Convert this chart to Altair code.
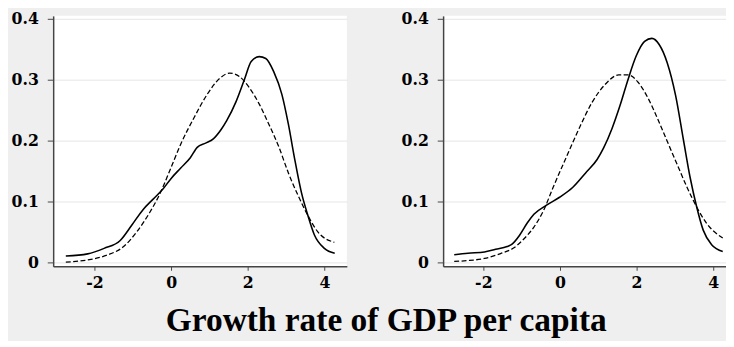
import altair as alt
import pandas as pd

# Left panel: kernel density (solid) and normal density (dashed)
left_kernel_x = [-2.75, -2.18, -1.75, -1.33, -1.03, -0.73, -0.47, -0.22, 0.0, 0.25, 0.5, 0.68, 0.9, 1.1,
                 1.3, 1.45, 1.7, 1.91, 2.09, 2.3, 2.47, 2.68, 2.89, 3.06, 3.23, 3.4, 3.57, 3.74, 4.0, 4.27]
left_kernel_y = [0.0106, 0.014, 0.023, 0.036, 0.061, 0.087, 0.104, 0.12, 0.138, 0.155, 0.172, 0.189, 0.196, 0.203,
                 0.218, 0.233, 0.265, 0.30, 0.33, 0.338, 0.335, 0.313, 0.276, 0.227, 0.168, 0.115, 0.077, 0.045, 0.023, 0.015]
left_normal_x = [-2.75, -2.18, -1.67, -1.24, -0.9, -0.56, -0.3, -0.04, 0.255, 0.6, 0.94, 1.28, 1.53, 1.79,
                 2.04, 2.3, 2.55, 2.81, 3.06, 3.32, 3.57, 3.83, 4.26]
left_normal_y = [0.0005, 0.004, 0.012, 0.026, 0.05, 0.082, 0.112, 0.15, 0.195, 0.238, 0.276, 0.303, 0.311, 0.305,
                 0.287, 0.26, 0.227, 0.19, 0.147, 0.109, 0.077, 0.05, 0.033]

# Right panel
right_kernel_x = [-2.76, -2.4, -1.97, -1.68, -1.38, -1.25, -1.05, -0.85, -0.68, -0.35, -0.01, 0.33, 0.67, 0.97,
                  1.14, 1.36, 1.57, 1.78, 1.99, 2.21, 2.4, 2.59, 2.8, 3.02, 3.23, 3.4, 3.57, 3.74, 3.96, 4.25]
right_kernel_y = [0.0124, 0.015, 0.017, 0.0215, 0.026, 0.030, 0.045, 0.065, 0.079, 0.094, 0.107, 0.123, 0.147, 0.169,
                  0.188, 0.22, 0.258, 0.301, 0.339, 0.363, 0.368, 0.358, 0.328, 0.274, 0.199, 0.139, 0.091, 0.053, 0.029, 0.018]
right_normal_x = [-2.76, -2.4, -1.97, -1.55, -1.2, -0.95, -0.68, -0.43, -0.18, 0.16, 0.5, 0.84, 1.19, 1.53,
                  1.78, 2.04, 2.29, 2.55, 2.8, 3.06, 3.32, 3.57, 3.83, 4.25]
right_normal_y = [0.0016, 0.003, 0.0065, 0.0145, 0.024, 0.038, 0.058, 0.085, 0.123, 0.172, 0.22, 0.263, 0.293, 0.308,
                  0.308, 0.296, 0.271, 0.236, 0.199, 0.161, 0.123, 0.091, 0.064, 0.04]

x_ticks = [-2, 0, 2, 4]
y_ticks = [0, 0.1, 0.2, 0.3, 0.4]
title_text = "Growth rate of GDP per capita"

FONT = "Liberation Serif"


def panel(kx, ky, nx, ny, width, xdomain):
    kdf = pd.DataFrame({"x": kx, "y": ky})
    ndf = pd.DataFrame({"x": nx, "y": ny})
    xs = alt.Scale(domain=xdomain, nice=False, zero=False)
    ys = alt.Scale(domain=[-0.0065, 0.405], nice=False, zero=False)
    xax = alt.Axis(values=x_ticks, grid=False, labelExpr="'' + datum.value",
                   tickSize=4, labelPadding=5, title=None)
    yax = alt.Axis(values=y_ticks, grid=True, format=".1~f",
                   tickSize=6, labelPadding=9, title=None)
    solid = alt.Chart(kdf).mark_line(color="black", strokeWidth=1.6, interpolate="monotone", clip=True).encode(
        x=alt.X("x:Q", scale=xs, axis=xax),
        y=alt.Y("y:Q", scale=ys, axis=yax),
    )
    dashed = alt.Chart(ndf).mark_line(color="black", strokeWidth=1.3, strokeDash=[5, 2.5],
                                      interpolate="monotone", clip=True).encode(
        x=alt.X("x:Q", scale=xs, axis=xax),
        y=alt.Y("y:Q", scale=ys, axis=yax),
    )
    return alt.layer(dashed, solid).properties(width=width, height=255)


left = panel(left_kernel_x, left_kernel_y, left_normal_x, left_normal_y, 299, [-3.08, 4.587])
right = panel(right_kernel_x, right_kernel_y, right_normal_x, right_normal_y, 288, [-3.05, 4.335])

chart = alt.hconcat(left, right, spacing=55).properties(
    padding={"left": 3, "top": 0, "right": 0, "bottom": 0},
    title=alt.TitleParams(title_text, orient="bottom", anchor="middle", fontSize=34, font=FONT,
                          fontWeight="bold", color="black", offset=14, dx=18),
).configure(background="#EFEFEF").configure_view(
    stroke=None, fill="white"
).configure_axis(
    labelFont="DejaVu Serif", labelFontSize=16, labelFontWeight="bold", labelColor="black",
    domainColor="#444444", domainWidth=1.5, tickColor="#444444", tickWidth=1,
    gridColor="#E6E6E6", gridWidth=1,
)

chart.save("out.html", embed_options={"renderer": "svg", "actions": False})
